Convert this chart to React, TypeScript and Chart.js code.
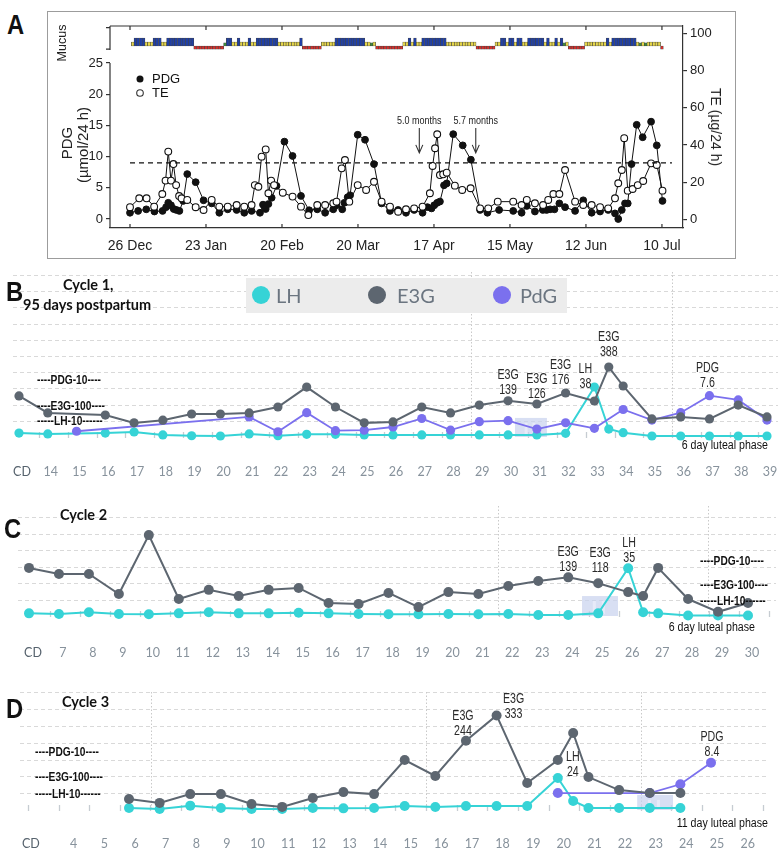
import React, { useEffect, useRef } from 'react';
import { Chart, registerables } from 'chart.js';
Chart.register(...registerables);

// ---------------- Panel A data ----------------
const A_TICK_DAYS = [0, 28, 56, 84, 112, 140, 168, 196];
const A_TICK_LABELS = ['26 Dec', '23 Jan', '20 Feb', '20 Mar', '17 Apr', '15 May', '12 Jun', '10 Jul'];
const PDG_TICKS = [0, 5, 10, 15, 20, 25];
const TE_TICKS = [0, 20, 40, 60, 80, 100];

const PDG_DAYS = [0, 3, 6, 9, 12, 13.3, 14.1, 15.1, 16.1, 17.1, 18.2, 19.6, 21.1, 24.2, 27.1, 30.1, 32.9, 36, 39.3, 42.1, 44.8, 47.9, 49, 50, 51, 52.2, 54, 56.9, 59.9, 63, 66, 69, 71.9, 74.9, 76.1, 78.2, 79, 80.2, 81.1, 83.9, 86.6, 89.9, 92.7, 95.8, 98.8, 101.7, 104.7, 107.8, 109.6, 111.1, 112.1, 113.2, 114.2, 115.7, 116.7, 119.1, 122.6, 125.6, 129, 131.7, 136, 141.2, 144.3, 146.2, 149.2, 152.1, 153.5, 154.8, 156.4, 158.2, 160.3, 164, 167, 170.1, 173.2, 176.2, 178.7, 179.9, 181.2, 182.4, 183.4, 184.8, 186.7, 188.9, 192, 194.1, 196.2];
const PDG_VALUES = [1.0, 1.3, 1.55, 1.2, 1.3, 1.9, 2.6, 2.2, 1.6, 1.45, 1.3, 2.9, 7.2, 5.9, 3.0, 2.5, 1.0, 1.55, 1.45, 1.0, 1.3, 1.0, 2.3, 1.6, 2.4, 3.4, 5.3, 12.4, 10.1, 3.7, 1.4, 1.55, 1.0, 1.55, 2.2, 1.55, 2.6, 3.5, 3.8, 13.5, 12.7, 8.8, 2.5, 1.3, 1.45, 1.0, 1.45, 1.0, 1.9, 1.7, 2.2, 2.6, 2.8, 5.4, 5.7, 13.6, 11.8, 9.5, 1.45, 1.0, 1.45, 1.3, 1.0, 2.1, 1.2, 1.45, 1.45, 1.55, 1.55, 2.5, 1.9, 1.3, 3.0, 1.0, 1.2, 1.45, 0.9, 0.0, 1.45, 2.5, 2.5, 8.8, 15.1, 13.1, 15.6, 11.8, 2.9];

const TE_DAYS = [0, 3.4, 6.1, 8.9, 11.9, 13.1, 14.1, 15.1, 16, 17, 18.1, 19, 21.1, 24.2, 27.1, 30.1, 32.9, 36, 39.3, 42.1, 44.8, 46, 47.3, 48.5, 50, 51, 52, 53.1, 56.3, 59.9, 63, 65.7, 69, 71.9, 74.9, 76.1, 78, 79.2, 80.8, 83.9, 87, 89.9, 92.7, 95.8, 98.8, 101.7, 104.7, 107.8, 110.5, 111.5, 112.4, 113.2, 114.2, 115.4, 116.7, 119.7, 122.4, 125.5, 129, 132, 135.5, 141.2, 144.3, 146.2, 149.2, 152.2, 154.1, 156, 158.2, 160.3, 164, 167, 170.1, 173.2, 176.2, 178.7, 179.9, 181.2, 182.1, 183.4, 185.2, 187.1, 189.1, 192, 194.1, 196.2];
const TE_VALUES = [6.6, 11.4, 11.4, 6.9, 13.7, 20.9, 36.5, 20.9, 29.8, 18.5, 12.6, 11.4, 10.5, 6.6, 5.1, 10.5, 6.9, 6.9, 7.8, 6.9, 7.8, 18.5, 17.6, 33.8, 37.7, 14.1, 20.9, 18.5, 14.4, 12.3, 6.9, 2.4, 7.8, 7.8, 8.7, 9.6, 27.5, 32.0, 9.6, 18.5, 15.9, 20.3, 9.6, 6.9, 4.2, 5.5, 6.0, 6.9, 14.1, 28.8, 38.3, 45.8, 23.9, 24.3, 25.2, 18.2, 15.9, 16.8, 6.0, 6.0, 9.6, 9.6, 7.8, 10.5, 8.7, 7.8, 10.5, 13.7, 13.7, 26.6, 9.6, 7.8, 7.8, 6.6, 6.0, 11.4, 19.5, 26.6, 43.7, 15.5, 16.4, 18.5, 20.7, 30.2, 29.3, 15.5];

// Mucus observation per day, starting on day 1 (Y yellow, B blue, R red, G green)
const MUCUS_DAILY = [
  'Y', 'BBBB', 'YYY', 'BBB', 'YY', 'BBBBBBBBBB', 'RRRRRRRRRRR', 'G', 'BB', 'YY', 'B', 'YYY', 'B', 'YY', 'BBBBBBBB', 'YYYYYYYY', 'B', 'RRRRRRR',
  'YYYYY', 'BBBBBBBBBBB', 'YY', 'G', 'Y', 'RRRRRRRRRR', 'YY', 'B', 'Y', 'B', 'YY', 'BBBBBBBBB', 'YYYYYYYYYYY', 'RRRRRRR',
  'YY', 'BB', 'Y', 'BB', 'Y', 'BB', 'YY', 'BBBBBB', 'Y', 'B', 'YY', 'B', 'Y', 'B', 'G', 'Y', 'RRRRRR', 'YYYYYYYY', 'B', 'Y', 'BBBBBBBBB', 'Y', 'G', 'Y', 'G', 'YYYYY', 'R',
].join('');
const PDG_THRESHOLD = 9;
const THRESHOLD_DAYS = [0, 199.7];
const ARROW_DAYS = [106.6, 127.4];
const ARROW_LABELS = ['5.0 months', '5.7 months'];

// ---------------- Panel B data (cycle 1) ----------------
const B_TICK_DAYS = [13, 14, 15, 16, 17, 18, 19, 20, 21, 22, 23, 24, 25, 26, 27, 28, 29, 30, 31, 32, 33, 34, 35, 36, 37, 38, 39];
const B_E3G_DAYS = [13, 14, 16, 17, 18, 19, 20, 21, 22, 23, 24, 25, 26, 27, 28, 29, 30, 31, 32, 33, 33.5, 34, 35, 36, 37, 38, 39];
const B_E3G = [161, 96, 90, 71, 77, 93, 93, 96, 115, 211, 115, 71, 73, 115, 96, 122, 139, 126, 176, 138, 388, 218, 80, 85, 80, 122, 85];
const B_LH_DAYS = [13, 14, 16, 17, 18, 19, 20, 21, 22, 23, 24, 25, 26, 27, 28, 29, 30, 31, 32, 33, 33.5, 34, 35, 36, 37, 38, 39];
const B_LH = [2.3, 1.6, 2.3, 3.1, 0.8, 0.2, 0, 1.6, 0.2, 1.3, 1.3, 0.8, 0.8, 0.8, 0.8, 0.8, 0.8, 0.8, 2.1, 38, 5.4, 2.6, 0, 0, 0, 0, 0];
const B_PDG_DAYS = [15, 21, 22, 23, 24, 25, 26, 27, 28, 29, 30, 31, 32, 33, 34, 35, 36, 37, 38, 39];
const B_PDG = [0.9, 3.6, 0.8, 4.4, 1.0, 1.1, 1.7, 3.3, 1.1, 2.7, 2.9, 1.3, 2.5, 1.45, 5.0, 3.0, 4.4, 7.6, 6.8, 3.0];
const B_NOTE_DAYS = [30, 31, 32, 33, 33.5, 37];
const B_NOTE_SERIES = ['E3G', 'E3G', 'E3G', 'LH', 'E3G', 'PDG'];
const B_NOTE_VALUES = [139, 126, 176, 38, 388, 7.6];
const B_WEEK_LINES = [28.7, 35.7];
const B_HIGHLIGHT = [30.24, 31.35, 14];

// ---------------- Panel C data (cycle 2) ----------------
const C_TICK_DAYS = [6, 7, 8, 9, 10, 11, 12, 13, 14, 15, 16, 17, 18, 19, 20, 21, 22, 23, 24, 25, 26, 27, 28, 29, 30];
const C_DAYS = [6, 7, 8, 9, 10, 11, 12, 13, 14, 15, 16, 17, 18, 19, 20, 21, 22, 23, 24, 25, 26, 26.5, 27, 28, 29, 30];
const C_E3G = [173, 151, 151, 79, 291, 61, 94, 72, 94, 101, 47, 43, 83, 32, 86, 79, 108, 126, 139, 118, 86, 72, 173, 61, 15, 47];
const C_LH = [1.6, 1.1, 2.4, 1.1, 0.9, 1.6, 2.4, 1.6, 1.6, 2.1, 1.6, 1.1, 0.9, 0.9, 1.1, 0.9, 1.1, 0.4, 0.4, 1.6, 35, 2.4, 1.6, 0, 0, 0];
const C_NOTE_DAYS = [24, 25, 26];
const C_NOTE_SERIES = ['E3G', 'E3G', 'LH'];
const C_NOTE_VALUES = [139, 118, 35];
const C_WEEK_LINES = [21.65, 28.66];
const C_HIGHLIGHT = [24.46, 25.66, 14.4];

// ---------------- Panel D data (cycle 3) ----------------
const D_TICK_DAYS = [2.6, 4, 5, 6, 7, 8, 9, 10, 11, 12, 13, 14, 15, 16, 17, 18, 19, 20, 21, 22, 23, 24, 25, 26];
const D_DAYS = [6, 7, 8, 9, 10, 11, 12, 13, 14, 15, 16, 17, 18, 19, 20, 20.5, 21, 22, 23, 24];
const D_E3G = [39, 25, 56, 56, 21, 11, 42, 63, 56, 176, 120, 244, 333, 95, 176, 271, 116, 70, 60, 60];
const D_LH = [0.8, 0, 2.6, 0.8, 0, 0, 0.8, 0.5, 0.8, 2.3, 1.6, 2.3, 2.3, 2.3, 24, 6.2, 0.8, 0.8, 0.8, 0.8];
const D_PDG_DAYS = [20, 23, 24, 25];
const D_PDG = [2.9, 2.9, 4.5, 8.4];
const D_NOTE_DAYS = [17, 18, 20, 25];
const D_NOTE_SERIES = ['E3G', 'E3G', 'LH', 'PDG'];
const D_NOTE_VALUES = [244, 333, 24, 8.4];
const D_WEEK_LINES = [6.72, 15.7, 22.7];
const D_HIGHLIGHT = [22.59, 23.76, 10.9];

// ---------------- styles ----------------
const ARIAL = "'Liberation Sans', Arial, sans-serif";
const LATO = "Lato, 'Open Sans', sans-serif";
const LH_COLOR = '#36d3d6';
const E3G_COLOR = '#5d6670';
const PDG_COLOR = '#7b70ee';
const MUCUS_COLORS: Record<string, string> = { Y: '#e5d64a', B: '#1f3fa5', R: '#d2302c', G: '#3d8a3a' };
const MUCUS_RANGE: Record<string, [number, number]> = { Y: [0, 0.5], B: [0, 1], G: [0, 0.4], R: [-0.4, 0] };
const AXIS_OF: Record<string, string> = { E3G: 'yE3G', LH: 'yLH', PDG: 'yPdG' };

const pts = (xs: number[], ys: number[]) => xs.map((x, i) => ({ x, y: ys[i] }));
const lin = (zero: number, ppu: number, top: number, bottom: number) => ({ min: -(bottom - zero) / ppu, max: (zero - top) / ppu });
const noPad = (s: any) => { s.paddingLeft = 0; s.paddingRight = 0; s.paddingTop = 0; s.paddingBottom = 0; };

// ---------------- Panel A ----------------
const frameA = {
  id: 'frameA',
  afterDraw(chart: any) {
    const { ctx, chartArea: ca, scales } = chart;
    const x = scales.x, yP = scales.yPDG, yM = scales.yMuc;
    ctx.save();
    ctx.strokeStyle = '#333';
    ctx.lineWidth = 1.2;
    ctx.beginPath();
    ctx.moveTo(ca.left, ca.top); ctx.lineTo(ca.right, ca.top);
    ctx.moveTo(ca.left, ca.top); ctx.lineTo(ca.left, yM.getPixelForValue(-0.5));
    ctx.moveTo(ca.left, yP.getPixelForValue(25)); ctx.lineTo(ca.left, ca.bottom);
    [2.3, -0.4].forEach(v => { const y = yM.getPixelForValue(v); ctx.moveTo(ca.left - 4, y); ctx.lineTo(ca.left, y); });
    A_TICK_DAYS.forEach(d => {
      const px = x.getPixelForValue(d);
      ctx.moveTo(px, ca.bottom); ctx.lineTo(px, ca.bottom - 4);
      ctx.moveTo(px, ca.top); ctx.lineTo(px, ca.top + 4);
    });
    ctx.stroke();
    // legend
    const lx = ca.left + 30;
    ctx.lineWidth = 1.1;
    ctx.fillStyle = '#111';
    ctx.beginPath(); ctx.arc(lx, ca.top + 53, 3.5, 0, Math.PI * 2); ctx.fill();
    ctx.fillStyle = '#fff';
    ctx.beginPath(); ctx.arc(lx, ca.top + 67, 3.3, 0, Math.PI * 2); ctx.fill(); ctx.stroke();
    ctx.fillStyle = '#111';
    ctx.font = `13px ${ARIAL}`;
    ctx.textAlign = 'left'; ctx.textBaseline = 'middle';
    ctx.fillText('PDG', lx + 12, ca.top + 53);
    ctx.fillText('TE', lx + 12, ca.top + 67);
    // arrows
    ctx.font = `10px ${ARIAL}`;
    ctx.textAlign = 'center';
    ARROW_DAYS.forEach((d, i) => {
      const px = x.getPixelForValue(d);
      ctx.fillStyle = '#222';
      ctx.save();
      ctx.translate(px, yP.getPixelForValue(15.6));
      ctx.scale(0.9, 1);
      ctx.fillText(ARROW_LABELS[i], 0, 0);
      ctx.restore();
      const y0 = yP.getPixelForValue(14.6), y1 = yP.getPixelForValue(10.6);
      ctx.beginPath();
      ctx.moveTo(px, y0); ctx.lineTo(px, y1);
      ctx.moveTo(px - 3.5, y1 - 8); ctx.lineTo(px, y1); ctx.lineTo(px + 3.5, y1 - 8);
      ctx.stroke();
    });
    ctx.restore();
  },
};

function buildA(): any {
  const mucus = MUCUS_DAILY.split('').map((c, i) => ({ x: i + 1, y: MUCUS_RANGE[c], c }));
  return {
    type: 'line',
    data: {
      datasets: [
        {
          type: 'bar', label: 'Mucus', data: mucus, yAxisID: 'yMuc',
          backgroundColor: mucus.map(m => MUCUS_COLORS[m.c]), borderColor: '#444', borderWidth: 0.6,
          borderSkipped: false, barPercentage: 1, categoryPercentage: 1,
        },
        {
          label: 'Threshold', data: THRESHOLD_DAYS.map(d => ({ x: d, y: PDG_THRESHOLD })), yAxisID: 'yPDG',
          borderColor: '#111', borderWidth: 1.3, borderDash: [5, 4], pointRadius: 0,
        },
        {
          label: 'TE', data: pts(TE_DAYS, TE_VALUES), yAxisID: 'yTE', borderColor: '#111', borderWidth: 1,
          pointRadius: 3.4, pointBackgroundColor: '#fff', pointBorderColor: '#111', pointBorderWidth: 1.1, tension: 0,
        },
        {
          label: 'PDG', data: pts(PDG_DAYS, PDG_VALUES), yAxisID: 'yPDG', borderColor: '#111', borderWidth: 1,
          pointRadius: 3.4, pointBackgroundColor: '#111', pointBorderColor: '#111', tension: 0,
        },
      ],
    },
    options: {
      responsive: false, animation: false, devicePixelRatio: 1,
      layout: { padding: { top: 13, left: 0, right: 0, bottom: 0 } },
      plugins: { legend: { display: false }, tooltip: { enabled: false } },
      scales: {
        x: {
          type: 'linear', min: -7.37, max: 203.76, offset: false,
          afterBuildTicks: (s: any) => { s.ticks = A_TICK_DAYS.map(v => ({ value: v })); },
          afterFit: (s: any) => { s.height = 29; noPad(s); },
          grid: { drawOnChartArea: false, drawTicks: false },
          border: { display: true, color: '#333', width: 1.2 },
          ticks: { autoSkip: false, maxRotation: 0, padding: 10, color: '#222', font: { family: ARIAL, size: 14 }, callback: (_v: any, i: number) => A_TICK_LABELS[i] },
        },
        yPDG: {
          position: 'left', min: -1.442, max: 30.93,
          afterBuildTicks: (s: any) => { s.ticks = PDG_TICKS.map(v => ({ value: v })); },
          afterFit: (s: any) => { s.width = 62; noPad(s); },
          grid: { drawOnChartArea: false, drawTicks: true, tickLength: 4, color: '#333', lineWidth: 1.2 },
          border: { display: false },
          ticks: { padding: 3, color: '#222', font: { family: ARIAL, size: 13 } },
        },
        yTE: {
          position: 'right', min: -4.57, max: 104.03,
          afterBuildTicks: (s: any) => { s.ticks = TE_TICKS.map(v => ({ value: v })); },
          afterFit: (s: any) => { s.width = 51; noPad(s); },
          grid: { drawOnChartArea: false, drawTicks: true, tickLength: 4, color: '#333', lineWidth: 1.2 },
          border: { display: true, color: '#333', width: 1.2 },
          ticks: { padding: 3, color: '#222', font: { family: ARIAL, size: 13 } },
        },
        yMuc: { display: false, min: -22.75, max: 2.5 },
      },
    },
    plugins: [frameA],
  };
}

// ---------------- Mira panels (B, C, D) ----------------
const miraPlugin = {
  id: 'mira',
  beforeDatasetsDraw(chart: any, _a: any, o: any) {
    const { ctx, chartArea: ca, scales } = chart;
    const x = scales.x;
    ctx.save();
    ctx.lineWidth = 1;
    ctx.strokeStyle = '#d9d9d9';
    ctx.setLineDash([4, 3]);
    for (let k = 1; k <= o.gridCount; k++) {
      const y = Math.round(ca.bottom - k * o.gridStep) + 0.5;
      ctx.beginPath(); ctx.moveTo(ca.left, y); ctx.lineTo(ca.right, y); ctx.stroke();
    }
    ctx.setLineDash([1.5, 2]);
    ctx.strokeStyle = '#c9c9c9';
    o.weekLines.forEach((d: number) => {
      const px = Math.round(x.getPixelForValue(d)) + 0.5;
      ctx.beginPath(); ctx.moveTo(px, ca.top); ctx.lineTo(px, ca.bottom); ctx.stroke();
    });
    ctx.setLineDash([]);
    ctx.strokeStyle = '#c6ccd2';
    ctx.lineWidth = 1.3;
    for (let d = o.markFrom; d <= o.markTo + 0.01; d += 1) {
      const px = Math.round(x.getPixelForValue(d)) + 0.5;
      ctx.beginPath(); ctx.moveTo(px, ca.bottom - 5); ctx.lineTo(px, ca.bottom + 1); ctx.stroke();
    }
    const [h0, h1, hTop] = o.highlight;
    const x0 = x.getPixelForValue(h0), x1 = x.getPixelForValue(h1);
    const yTop = scales.yLH.getPixelForValue(hTop);
    ctx.fillStyle = 'rgba(200,209,238,0.7)';
    ctx.fillRect(x0, yTop, x1 - x0, ca.bottom - yTop);
    ctx.fillStyle = 'rgba(235,238,250,0.8)';
    ctx.fillRect(x0 + (x1 - x0) * 0.3, yTop + 5, 3, ca.bottom - yTop - 7);
    ctx.fillRect(x0 + (x1 - x0) * 0.55, yTop + 5, 3, ca.bottom - yTop - 7);
    ctx.restore();
  },
  afterDatasetsDraw(chart: any, _a: any, o: any) {
    const { ctx, scales } = chart;
    ctx.save();
    ctx.font = `14px ${ARIAL}`;
    ctx.fillStyle = '#2a2a2a';
    ctx.textAlign = 'center';
    ctx.textBaseline = 'middle';
    const draw = (t: string, px: number, py: number) => {
      ctx.save(); ctx.translate(px, py); ctx.scale(0.76, 1); ctx.fillText(t, 0, 0); ctx.restore();
    };
    o.noteDays.forEach((d: number, i: number) => {
      const ser = o.noteSeries[i];
      const px = scales.x.getPixelForValue(d) + o.noteOffsets[i][0];
      const py = scales[AXIS_OF[ser]].getPixelForValue(o.noteValues[i]) + o.noteOffsets[i][1];
      draw(ser, px, py - 15);
      draw(String(o.noteValues[i]), px, py);
    });
    ctx.restore();
  },
};

type MiraSpec = {
  top: number; height: number; chartTop: number; chartBottom: number; L: number; R: number;
  day0: number; px0: number; day1: number; px1: number;
  tickDays: number[]; labelOffset: number; tickPadding: number;
  series: { days: number[]; values: number[]; axis: string; color: string; width: number }[];
  yScales: Record<string, any>; radius: number;
  mira: any;
};

function buildMira(s: MiraSpec): any {
  const step = (s.px1 - s.px0) / (s.day1 - s.day0);
  const xmin = s.day0 - (s.px0 - s.L) / step;
  const xmax = s.day1 + (s.R - s.px1) / step;
  const scales: any = {
    x: {
      type: 'linear', min: xmin, max: xmax, offset: false,
      afterBuildTicks: (sc: any) => { sc.ticks = s.tickDays.map(v => ({ value: v })); },
      afterFit: (sc: any) => { sc.height = s.top + s.height - s.chartBottom; noPad(sc); },
      grid: { display: false, drawTicks: false },
      border: { display: false },
      ticks: {
        autoSkip: false, maxRotation: 0, padding: s.tickPadding, labelOffset: s.labelOffset,
        font: { family: LATO, size: 12.5 },
        color: (c: any) => (c.index === 0 ? '#56626d' : '#87929c'),
        callback: (_v: any, i: number) => (i === 0 ? 'CD' : String(s.tickDays[i])),
      },
    },
  };
  Object.keys(s.yScales).forEach(k => { scales[k] = { display: false, ...s.yScales[k] }; });
  return {
    type: 'line',
    data: {
      datasets: s.series.map(se => ({
        data: pts(se.days, se.values), yAxisID: se.axis, borderColor: se.color, backgroundColor: se.color,
        borderWidth: se.width, pointRadius: s.radius, pointBorderWidth: 0, pointBackgroundColor: se.color,
        tension: 0, clip: false,
      })),
    },
    options: {
      responsive: false, animation: false, devicePixelRatio: 1,
      layout: { padding: { top: s.chartTop - s.top, left: s.L, right: 784 - s.R, bottom: 0 } },
      plugins: { legend: { display: false }, tooltip: { enabled: false }, mira: s.mira },
      scales,
    },
    plugins: [miraPlugin],
  };
}

const B_SPEC: MiraSpec = {
  top: 262, height: 223, chartTop: 272, chartBottom: 437, L: 13, R: 778,
  day0: 13, px0: 19, day1: 39, px1: 767, tickDays: B_TICK_DAYS, labelOffset: 3, tickPadding: 27, radius: 4.6,
  series: [
    { days: B_E3G_DAYS, values: B_E3G, axis: 'yE3G', color: E3G_COLOR, width: 2 },
    { days: B_PDG_DAYS, values: B_PDG, axis: 'yPdG', color: PDG_COLOR, width: 1.8 },
    { days: B_LH_DAYS, values: B_LH, axis: 'yLH', color: LH_COLOR, width: 2 },
  ],
  yScales: {
    yLH: lin(436, 1.29, 272, 437),
    yPdG: lin(436, 5.3, 272, 437),
    yE3G: { type: 'logarithmic', min: 46.2, max: 6984 },
  },
  mira: {
    gridCount: 10, gridStep: 16.2, weekLines: B_WEEK_LINES, markFrom: 13.7, markTo: 38.7, highlight: B_HIGHLIGHT,
    noteDays: B_NOTE_DAYS, noteSeries: B_NOTE_SERIES, noteValues: B_NOTE_VALUES,
    noteOffsets: [[0, -11], [0, -10], [-5, -13], [-9, -3], [0, -15], [-2, -13]],
  },
};

const C_SPEC: MiraSpec = {
  top: 490, height: 175, chartTop: 506, chartBottom: 616, L: 18, R: 776,
  day0: 6, px0: 29, day1: 30, px1: 748, tickDays: C_TICK_DAYS, labelOffset: 4, tickPadding: 29, radius: 5,
  series: [
    { days: C_DAYS, values: C_E3G, axis: 'yE3G', color: E3G_COLOR, width: 2 },
    { days: C_DAYS, values: C_LH, axis: 'yLH', color: LH_COLOR, width: 2 },
  ],
  yScales: {
    yLH: lin(615.5, 1.35, 506, 616),
    yE3G: lin(616, 0.278, 506, 616),
  },
  mira: {
    gridCount: 6, gridStep: 16.5, weekLines: C_WEEK_LINES, markFrom: 6.7, markTo: 30.7, highlight: C_HIGHLIGHT,
    noteDays: C_NOTE_DAYS, noteSeries: C_NOTE_SERIES, noteValues: C_NOTE_VALUES,
    noteOffsets: [[0, -10], [2, -15], [1, -10]],
  },
};

const D_SPEC: MiraSpec = {
  top: 672, height: 186, chartTop: 692, chartBottom: 810, L: 20, R: 767,
  day0: 6, px0: 129, day1: 25, px1: 711, tickDays: D_TICK_DAYS, labelOffset: 6, tickPadding: 26, radius: 5,
  series: [
    { days: D_DAYS, values: D_E3G, axis: 'yE3G', color: E3G_COLOR, width: 2 },
    { days: D_PDG_DAYS, values: D_PDG, axis: 'yPdG', color: PDG_COLOR, width: 1.8 },
    { days: D_DAYS, values: D_LH, axis: 'yLH', color: LH_COLOR, width: 2 },
  ],
  yScales: {
    yLH: lin(809, 1.29, 692, 810),
    yE3G: lin(810, 0.284, 692, 810),
    yPdG: lin(809, 5.5, 692, 810),
  },
  mira: {
    gridCount: 7, gridStep: 16.8, weekLines: D_WEEK_LINES, markFrom: 2.7, markTo: 26.7, highlight: D_HIGHLIGHT,
    noteDays: D_NOTE_DAYS, noteSeries: D_NOTE_SERIES, noteValues: D_NOTE_VALUES,
    noteOffsets: [[-3, -10], [17, -1], [15, -6], [1, -11]],
  },
};

// ---------------- components ----------------
function ChartCanvas({ left, top, width, height, build }: { left: number; top: number; width: number; height: number; build: () => any }) {
  const ref = useRef<HTMLCanvasElement>(null);
  useEffect(() => {
    const chart = new Chart(ref.current as HTMLCanvasElement, build());
    return () => chart.destroy();
  }, []);
  return <canvas ref={ref} width={width} height={height} style={{ position: 'absolute', left, top, width, height }} />;
}

function Txt({ x, y, children, font, color = '#111', anchor = 'left', rotate = 0, sx = 1 }: any) {
  const tx = anchor === 'left' ? '0' : anchor === 'right' ? '-100%' : '-50%';
  const origin = anchor === 'left' ? 'left center' : anchor === 'right' ? 'right center' : 'center center';
  return (
    <div style={{
      position: 'absolute', left: x, top: y, font, color, whiteSpace: 'pre', lineHeight: 1,
      transformOrigin: origin, transform: `translate(${tx}, -50%) rotate(${rotate}deg) scaleX(${sx})`,
    }}>
      {children}
    </div>
  );
}

function Dot({ x, y, color }: { x: number; y: number; color: string }) {
  return <div style={{ position: 'absolute', left: x - 9, top: y - 9, width: 18, height: 18, borderRadius: 9, background: color }} />;
}

function RefLabels({ x, yP, yE, yL }: any) {
  const f = `bold 12px ${ARIAL}`;
  return (
    <>
      <Txt x={x} y={yP} font={f} sx={0.85}>----PDG-10----</Txt>
      <Txt x={x} y={yE} font={f} sx={0.85}>----E3G-100----</Txt>
      <Txt x={x} y={yL} font={f} sx={0.85}>-----LH-10------</Txt>
    </>
  );
}

export default function App() {
  const letter = `bold 28px ${ARIAL}`;
  const cyc = `bold 14.5px ${LATO}`;
  const lut = `12.5px ${ARIAL}`;
  const leg = `20px ${LATO}`;
  return (
    <div style={{ position: 'absolute', left: 0, top: 0, width: 784, height: 858, background: '#fff', overflow: 'hidden' }}>
      {/* Panel A */}
      <div style={{ position: 'absolute', left: 47, top: 11, width: 689, height: 248, boxSizing: 'border-box', border: '1.5px solid #9c9c9c' }} />
      <ChartCanvas left={48} top={13} width={686} height={244} build={buildA} />
      <Txt x={7} y={25} font={letter} sx={0.85}>A</Txt>
      <Txt x={62} y={43} font={`12.5px ${ARIAL}`} anchor="center" rotate={-90} color="#222">Mucus</Txt>
      <Txt x={66} y={143} font={`15px ${ARIAL}`} anchor="center" rotate={-90} color="#222">PDG</Txt>
      <Txt x={82} y={145} font={`15px ${ARIAL}`} anchor="center" rotate={-90} color="#222">(µmol/24 h)</Txt>
      <Txt x={716} y={127} font={`14px ${ARIAL}`} anchor="center" rotate={90} color="#222">TE (µg/24 h)</Txt>

      {/* Panel B */}
      <ChartCanvas left={0} top={B_SPEC.top} width={784} height={B_SPEC.height} build={() => buildMira(B_SPEC)} />
      <Txt x={6} y={292} font={letter} sx={0.85}>B</Txt>
      <Txt x={63} y={285} font={cyc}>Cycle 1,</Txt>
      <Txt x={23} y={305} font={cyc}>95 days postpartum</Txt>
      <div style={{ position: 'absolute', left: 246, top: 278, width: 321, height: 35, background: '#ececec' }} />
      <Dot x={261} y={295} color={LH_COLOR} />
      <Txt x={276} y={295} font={leg} color="#6b7580">LH</Txt>
      <Dot x={377} y={295} color={E3G_COLOR} />
      <Txt x={397} y={295} font={leg} color="#6b7580">E3G</Txt>
      <Dot x={502} y={295} color={PDG_COLOR} />
      <Txt x={520} y={295} font={leg} color="#6b7580">PdG</Txt>
      <RefLabels x={37} yP={380} yE={406} yL={421} />
      <Txt x={768} y={445} font={lut} anchor="right" sx={0.85}>6 day luteal phase</Txt>

      {/* Panel C */}
      <ChartCanvas left={0} top={C_SPEC.top} width={784} height={C_SPEC.height} build={() => buildMira(C_SPEC)} />
      <Txt x={4} y={529} font={letter} sx={0.85}>C</Txt>
      <Txt x={60} y={515} font={cyc}>Cycle 2</Txt>
      <RefLabels x={700} yP={561} yE={585} yL={601} />
      <Txt x={755} y={627} font={lut} anchor="right" sx={0.85}>6 day luteal phase</Txt>

      {/* Panel D */}
      <ChartCanvas left={0} top={D_SPEC.top} width={784} height={D_SPEC.height} build={() => buildMira(D_SPEC)} />
      <Txt x={6} y={709} font={letter} sx={0.85}>D</Txt>
      <Txt x={62} y={702} font={cyc}>Cycle 3</Txt>
      <RefLabels x={35} yP={752} yE={777} yL={794} />
      <Txt x={768} y={823} font={lut} anchor="right" sx={0.85}>11 day luteal phase</Txt>
    </div>
  );
}
